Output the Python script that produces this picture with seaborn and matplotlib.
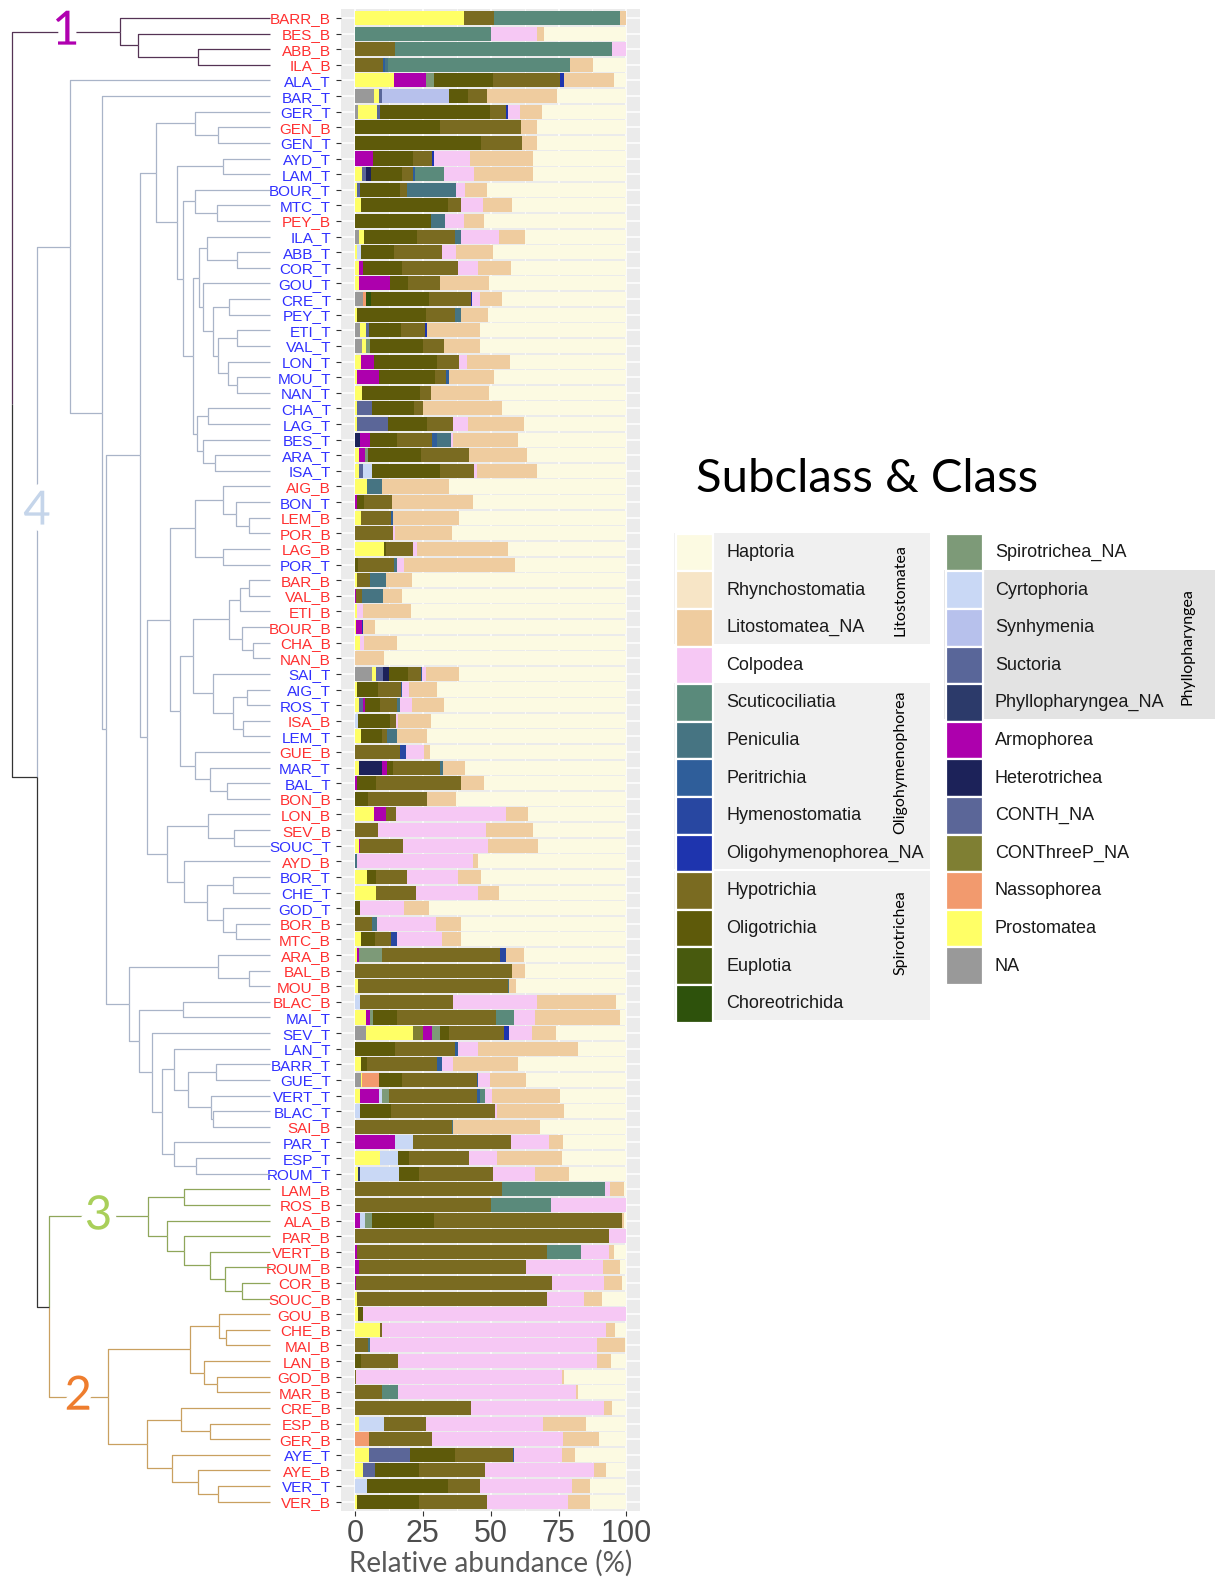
import matplotlib
matplotlib.use("Agg")
import matplotlib.pyplot as plt
import matplotlib.patheffects as pe
from matplotlib.patches import Rectangle
import pandas as pd
import seaborn as sns

# taxa in legend order (column 1 top -> column 2 bottom)
taxa = ["Haptoria", "Rhynchostomatia", "Litostomatea_NA", "Colpodea",
        "Scuticociliatia", "Peniculia", "Peritrichia", "Hymenostomatia",
        "Oligohymenophorea_NA", "Hypotrichia", "Oligotrichia", "Euplotia",
        "Choreotrichida", "Spirotrichea_NA", "Cyrtophoria", "Synhymenia",
        "Suctoria", "Phyllopharyngea_NA", "Armophorea", "Heterotrichea",
        "CONTH_NA", "CONThreeP_NA", "Nassophorea", "Prostomatea", "NA"]
codes = ["Hap", "Rhy", "Lit", "Col", "Scu", "Pen", "Per", "Hym", "OlN", "Hyp",
         "Olt", "Eup", "Cho", "SpN", "Cyr", "Syn", "Suc", "Phy", "Arm", "Het",
         "CTH", "CTP", "Nas", "Pro", "NA"]
colors = ["#FCFAE2", "#F7E5C6", "#EFCC9F", "#F6C8F4", "#5A8A7B", "#467482",
          "#2F5E9A", "#2847A1", "#1E34AE", "#7A6B21", "#5E5A0A", "#485A0E",
          "#2E520C", "#7D9A78", "#C9D8F5", "#B7C1EC", "#596699", "#2C3A6A",
          "#AD00AD", "#1C2259", "#5B6698", "#7F7F33", "#F29A6E", "#FFFF66",
          "#999999"]

# relative abundance (%) per sample; Haptoria is the rest
comp_c1 = [
    ("BARR_B", dict(Pro=40, Hyp=11.3, Scu=46.2, Lit=2.3)),
    ("BES_B", dict(Scu=50, Col=17.2, Lit=2.5)),
    ("ABB_B", dict(Hyp=14.7, Scu=80.1, Col=5.2)),
    ("ILA_B", dict(Hyp=10.2, Per=0.9, Pen=1.0, Scu=67, Lit=8.6)),
]
comp_c4a = [
    ("ALA_T", dict(Pro=14.5, Arm=11.6, SpN=3, Olt=21.9, Hyp=24.5, OlN=1.5, Lit=18.3)),
    ("BAR_T", dict(NA=7, Pro=2, Suc=1, Syn=24.7, Olt=7, Hyp=7, Lit=25.9)),
    ("GER_T", dict(NA=1.2, Pro=7, Suc=1.2, Olt=40.3, Hyp=5.9, OlN=0.8, Col=4.3, Lit=8.3)),
    ("GEN_B", dict(Olt=31.3, Hyp=30, Lit=5.6)),
    ("GEN_T", dict(Olt=46.3, Hyp=15.3, Lit=5.3)),
    ("AYD_T", dict(Arm=6.7, Olt=14.8, Hyp=7, OlN=0.6, Col=13.2, Lit=23.1)),
    ("LAM_T", dict(Pro=2.5, CTH=1.5, Het=1.9, Olt=11.6, Hyp=3.7, Per=1, Scu=10.6, Col=11.1, Lit=21.7)),
    ("BOUR_T", dict(Pro=0.7, Suc=1.1, Olt=14.8, Hyp=2.7, Pen=18.1, Col=3.1, Lit=8)),
    ("MTC_T", dict(Pro=2.2, Olt=32.2, Hyp=4.5, Col=8.3, Lit=10.7)),
    ("PEY_B", dict(Olt=27.9, Pen=5.4, Col=6.9, Lit=7.3)),
    ("ILA_T", dict(NA=1.6, Pro=1.6, Olt=19.7, Hyp=14, Pen=2, Col=14.2, Lit=9.7)),
    ("ABB_T", dict(Pro=0.7, Cyr=1.5, Olt=12.2, Hyp=17.5, Col=5.3, Lit=13.7)),
    ("COR_T", dict(Pro=1.3, Arm=1.5, Olt=14.7, Hyp=20.5, Col=7.3, Lit=12.1)),
    ("GOU_T", dict(Pro=1.3, Arm=11.6, Olt=6.7, Hyp=11.9, Lit=17.9)),
    ("CRE_T", dict(NA=3.1, Nas=1, Cho=1.8, Olt=21.5, Hyp=15.2, OlN=0.5, Col=2.9, Lit=8.2)),
    ("PEY_T", dict(Pro=0.9, Olt=25.2, Hyp=10.9, Pen=1.9, Lit=10.2)),
    ("ETI_T", dict(NA=1.8, Pro=2.2, Suc=1.3, Olt=11.6, Hyp=8.9, OlN=0.6, Lit=19.6)),
    ("VAL_T", dict(NA=2.7, Pro=1.3, SpN=1.5, Olt=19.7, Hyp=7.7, Lit=13.1)),
    ("LON_T", dict(Pro=2.1, Arm=5, Olt=23.2, Hyp=7.9, Col=3.1, Lit=15.8)),
    ("MOU_T", dict(Pro=0.6, Arm=8.4, Olt=20.4, Hyp=4, Per=1.3, Lit=16.5)),
    ("NAN_T", dict(Pro=2.5, Olt=21.4, Hyp=4.1, Lit=21.4)),
    ("CHA_T", dict(Pro=0.9, CTH=5.2, Olt=15.6, Hyp=3.2, Lit=29.1)),
    ("LAG_T", dict(Pro=0.6, CTH=11.4, Olt=14.7, Hyp=9.5, Col=5.5, Lit=20.5)),
    ("BES_T", dict(Het=1.8, Arm=3.7, Olt=9.8, Hyp=13.2, Per=1.6, Pen=5.2, Col=0.9, Lit=23.9)),
    ("ARA_T", dict(Pro=1.5, Arm=2.2, SpN=1, Olt=19.8, Hyp=17.6, Lit=21.3)),
    ("ISA_T", dict(Pro=1.6, Suc=1.2, Cyr=3.3, Olt=25.2, Hyp=12.6, Col=0.9, Lit=22.1)),
]
comp_c4b = [
    ("AIG_B", dict(Pro=4.3, Pen=5.5, Lit=24.9)),
    ("BON_T", dict(Arm=0.6, Olt=2.7, Hyp=10.3, Lit=29.9)),
    ("LEM_B", dict(Pro=2.1, Hyp=11.2, Per=0.8, Lit=24.2)),
    ("POR_B", dict(Hyp=14.1, Col=0.6, Lit=21.1)),
    ("LAG_B", dict(Pro=10.8, Olt=0.6, Hyp=9.8, Col=1.8, Lit=33.2)),
    ("POR_T", dict(Olt=1, Hyp=13.5, Pen=0.8, Col=2.9, Lit=40.8)),
    ("BAR_B", dict(Pro=0.6, Hyp=4.9, Pen=5.9, Lit=9.6)),
    ("VAL_B", dict(Arm=0.4, Hyp=2.1, Pen=7.9, Lit=7.1)),
    ("ETI_B", dict(Pro=0.6, Col=2.5, Lit=17.5)),
    ("BOUR_B", dict(Pro=0.4, Arm=2.1, OlN=0.6, Lit=4.3)),
    ("CHA_B", dict(Pro=1.8, Col=1.6, Lit=12.2)),
    ("NAN_B", dict(Lit=10.8)),
    ("SAI_T", dict(NA=6.4, Pro=1.2, CTH=2.8, Het=2.2, Olt=6.8, Hyp=4.9, Per=0.5, Col=1.2, Lit=12.4)),
    ("AIG_T", dict(Pro=0.9, Olt=7.7, Hyp=8.2, Per=0.6, Col=2.5, Lit=10.5)),
    ("ROS_T", dict(Pro=1.5, CTH=1.6, Arm=0.6, Olt=5.7, Hyp=5.9, Pen=1.3, Col=4.3, Lit=12)),
    ("ISA_B", dict(Cyr=1.2, Olt=11.7, Hyp=2.2, Col=0.6, Lit=12.3)),
    ("LEM_T", dict(Pro=2.1, Olt=7.7, Hyp=2.1, Pen=3.4, Lit=11.3)),
    ("GUE_B", dict(Hyp=16.6, Hym=2.2, Col=6.7, Lit=2.1)),
    ("MAR_T", dict(Pro=1.6, Het=8.2, Arm=1.9, Olt=2.4, Hyp=17.2, Pen=1, Lit=8.3)),
    ("BAL_T", dict(Arm=0.9, Olt=6.7, Hyp=31.5, Lit=8.4)),
    ("BON_B", dict(Olt=4.9, Hyp=21.7, Lit=10.8)),
    ("LON_B", dict(Pro=7, Arm=4.4, Hyp=3.7, Col=40.7, Lit=8)),
    ("SEV_B", dict(Hyp=8.3, Col=39.9, Lit=17.2)),
    ("SOUC_T", dict(Pro=1.5, Arm=0.4, Hyp=15.9, Col=31.3, Lit=18.4)),
    ("AYD_B", dict(Pen=0.6, Col=43, Lit=1.6)),
    ("BOR_T", dict(Pro=4.5, Olt=3.1, Hyp=11.7, Col=18.5, Lit=8.5)),
    ("CHE_T", dict(Pro=7.6, Hyp=14.7, Col=23.1, Lit=7.7)),
    ("GOD_T", dict(Olt=1.8, Col=16.4, Lit=9)),
    ("BOR_B", dict(Hyp=6.1, Pen=2.1, Col=21.5, Lit=9.3)),
    ("MTC_B", dict(Pro=2.2, Olt=5.2, Hyp=5.9, Hym=2.3, Col=16.5, Lit=6.8)),
]
comp_c4c = [
    ("ARA_B", dict(Pro=0.6, Arm=0.9, SpN=8.6, Hyp=43.3, Hym=2.4, Lit=6.4)),
    ("BAL_B", dict(Hyp=57.9, Lit=4.9)),
    ("MOU_B", dict(Pro=1, Hyp=55.2, Pen=0.6, Lit=2.5)),
    ("BLAC_B", dict(Cyr=1.8, Hyp=34.2, Col=31.2, Lit=29.1)),
    ("MAI_T", dict(Pro=4, Arm=1.5, SpN=1.2, Olt=8.6, Hyp=36.5, Scu=6.7, Col=8, Lit=31)),
    ("SEV_T", dict(NA=3.9, Pro=17.6, CTP=3.7, Arm=3, SpN=3.1, Olt=3.3, Hyp=20.4, OlN=1.8, Col=8.5, Lit=8.7)),
    ("LAN_T", dict(Olt=14.7, Hyp=22.1, Per=1, Col=7.4, Lit=37)),
    ("BARR_T", dict(Pro=2.2, Olt=2.3, Hyp=25.9, Per=1.5, Col=4.3, Lit=23.7)),
    ("GUE_T", dict(NA=2.2, Pro=0.5, Nas=6.1, Olt=8.4, Hyp=27.6, Per=0.6, Col=4.3, Lit=13.2)),
    ("VERT_T", dict(Pro=1.8, Arm=7, Cyr=1.3, SpN=2.5, Hyp=32.2, Per=1.2, Scu=1.9, Col=2.4, Lit=25.2)),
    ("BLAC_T", dict(Cyr=1.8, Olt=11.5, Hyp=38.2, Col=0.9, Lit=24.5)),
    ("SAI_B", dict(Hyp=35.8, Pen=0.4, Lit=31.9)),
    ("PAR_T", dict(Arm=14.7, Cyr=6.5, Hyp=36.2, Col=14, Lit=5.3)),
    ("ESP_T", dict(Pro=9.4, Cyr=6.3, Olt=4.3, Hyp=22, Col=10.5, Lit=23.6)),
    ("ROUM_T", dict(Pro=1.2, Phy=0.6, Cyr=14.4, Olt=7.4, Hyp=27.2, Col=15.7, Lit=12.2)),
]
comp_c3 = [
    ("LAM_B", dict(Hyp=54, Scu=38, Col=1.9, Lit=5.1)),
    ("ROS_B", dict(Hyp=50, Scu=22.1, Col=27.9)),
    ("ALA_B", dict(Arm=1.8, Cyr=1.9, SpN=2.4, Olt=23, Hyp=69.1, Lit=0.8)),
    ("PAR_B", dict(Hyp=93.6, Col=6.4)),
    ("VERT_B", dict(Arm=0.6, Hyp=70.3, Scu=12.5, Col=10.2, Lit=1.7)),
    ("ROUM_B", dict(Arm=1.4, Hyp=61.6, Col=28.5, Lit=6.1)),
    ("COR_B", dict(Arm=0.3, Hyp=72.1, Col=19.3, Lit=6.8)),
    ("SOUC_B", dict(Pro=0.6, Hyp=70, Col=13.8, Lit=6.6)),
]
comp_c2 = [
    ("GOU_B", dict(Pro=1, Olt=2.1, Col=96.7)),
    ("CHE_B", dict(Pro=9.2, Hyp=0.8, Col=82.4, Lit=3.3)),
    ("MAI_B", dict(Hyp=4.9, Pen=0.6, Col=83.8, Lit=10.1)),
    ("LAN_B", dict(Olt=2.2, Hyp=13.8, Col=73.3, Lit=5.2)),
    ("GOD_B", dict(Hyp=0.3, Col=76, Lit=0.6)),
    ("MAR_B", dict(Hyp=9.8, Scu=5.9, Col=65.6, Lit=0.7)),
    ("CRE_B", dict(Hyp=42.9, Col=48.8, Lit=3.1)),
    ("ESP_B", dict(Pro=1.6, Cyr=9.1, Hyp=15.4, Col=43.2, Lit=15.7)),
    ("GER_B", dict(Nas=5.3, Hyp=23.2, Col=48.2, Lit=13.2)),
    ("AYE_T", dict(Pro=5.3, CTH=14.9, Olt=16.6, Hyp=21.5, Per=0.4, Col=17.6, Lit=4.7)),
    ("AYE_B", dict(Pro=2.8, CTH=4.6, Olt=16.3, Hyp=24.2, Col=40.2, Lit=4.5)),
    ("VER_T", dict(Cyr=4.5, Olt=29.9, Hyp=11.6, Col=33.8, Lit=6.9)),
    ("VER_B", dict(Pro=0.6, Olt=23.1, Hyp=25, Col=29.8, Lit=8.2)),
]

# dendrogram: (node, upper child, lower child, merge height)
merges = [
    ("c1a", "ABB_B", "ILA_B", 0.28), ("c1b", "BES_B", "c1a", 0.51), ("c1", "BARR_B", "c1b", 0.583),
    ("gen", "GEN_B", "GEN_T", 0.20), ("ger", "GER_T", "gen", 0.29),
    ("ayd", "AYD_T", "LAM_T", 0.183), ("mtc", "MTC_T", "PEY_B", 0.204), ("bour", "BOUR_T", "mtc", 0.29),
    ("abbc", "ABB_T", "COR_T", 0.126), ("ila", "ILA_T", "abbc", 0.243),
    ("crep", "CRE_T", "PEY_T", 0.157), ("etiv", "ETI_T", "VAL_T", 0.126), ("moun", "MOU_T", "NAN_T", 0.126),
    ("lon", "LON_T", "moun", 0.161), ("eti", "etiv", "lon", 0.20), ("cre", "crep", "eti", 0.219),
    ("gou", "GOU_T", "cre", 0.258), ("ilag", "ila", "gou", 0.274),
    ("chal", "CHA_T", "LAG_T", 0.239), ("arai", "ARA_T", "ISA_T", 0.213), ("bes", "BES_T", "arai", 0.258),
    ("cha", "chal", "bes", 0.284), ("G", "ilag", "cha", 0.299), ("F", "bour", "G", 0.338),
    ("E", "ayd", "F", 0.361), ("D", "ger", "E", 0.441),
    ("lemp", "LEM_B", "POR_B", 0.08), ("bon", "BON_T", "lemp", 0.132), ("aig", "AIG_B", "bon", 0.183),
    ("lagp", "LAG_B", "POR_T", 0.183), ("g30", "aig", "lagp", 0.29),
    ("barv", "BAR_B", "VAL_B", 0.08), ("etib", "ETI_B", "barv", 0.116), ("chan", "CHA_B", "NAN_B", 0.065),
    ("bourb", "BOUR_B", "chan", 0.11), ("g36", "etib", "bourb", 0.157),
    ("aigr", "AIG_T", "ROS_T", 0.088), ("isal", "ISA_B", "LEM_T", 0.106), ("aigi", "aigr", "isal", 0.142),
    ("sai", "SAI_T", "aigi", 0.219), ("g36b", "g36", "sai", 0.297),
    ("balb", "BAL_T", "BON_B", 0.168), ("mar", "MAR_T", "balb", 0.232), ("gue", "GUE_B", "mar", 0.29),
    ("I", "g36b", "gue", 0.348), ("H", "g30", "I", 0.387),
    ("sevs", "SEV_B", "SOUC_T", 0.138), ("lonb", "LON_B", "sevs", 0.239),
    ("borc", "BOR_T", "CHE_T", 0.145), ("bormt", "BOR_B", "MTC_B", 0.132), ("god", "GOD_T", "bormt", 0.181),
    ("bor", "borc", "god", 0.243), ("aydb", "AYD_B", "bor", 0.335), ("lonayd", "lonb", "aydb", 0.40),
    ("J", "H", "lonayd", 0.477), ("C1", "D", "J", 0.503),
    ("balm", "BAL_B", "MOU_B", 0.08), ("ara", "ARA_B", "balm", 0.20), ("blac", "BLAC_B", "MAI_T", 0.338),
    ("barg", "BARR_T", "GUE_T", 0.209), ("blsa", "BLAC_T", "SAI_B", 0.222), ("vert", "VERT_T", "blsa", 0.23),
    ("bv", "barg", "vert", 0.316), ("lan", "LAN_T", "bv", 0.372),
    ("espr", "ESP_T", "ROUM_T", 0.286), ("par", "PAR_T", "espr", 0.374),
    ("M", "lan", "par", 0.419), ("L", "SEV_T", "M", 0.458), ("K", "blac", "L", 0.506),
    ("C2", "ara", "K", 0.545), ("C", "C1", "C2", 0.635), ("B", "BAR_T", "C", 0.652), ("c4", "ALA_T", "B", 0.774),
    ("lamr", "LAM_B", "ROS_B", 0.332), ("cors", "COR_B", "SOUC_B", 0.107), ("roum", "ROUM_B", "cors", 0.174),
    ("vertb", "VERT_B", "roum", 0.232), ("parb", "PAR_B", "vertb", 0.332), ("alab", "ALA_B", "parb", 0.40),
    ("c3", "lamr", "alab", 0.471),
    ("chem", "CHE_B", "MAI_B", 0.17), ("goub", "GOU_B", "chem", 0.196), ("godm", "GOD_B", "MAR_B", 0.204),
    ("lanb", "LAN_B", "godm", 0.255), ("g83", "goub", "lanb", 0.312),
    ("espg", "ESP_B", "GER_B", 0.232), ("creb", "CRE_B", "espg", 0.345),
    ("ver", "VER_T", "VER_B", 0.20), ("ayeb", "AYE_B", "ver", 0.28), ("ayet", "AYE_T", "ayeb", 0.381),
    ("g89", "creb", "ayet", 0.475), ("c2", "g83", "g89", 0.628),
    ("P", "c3", "c2", 0.858), ("N", "c4", "P", 0.903), ("root", "c1", "N", 1.0),
]
# cluster root node, tag, line colour, tag colour, tag placement
clusters = [("c1", "1", "#553355", "#B000B0", "h"),
            ("c4", "4", "#A9B4C8", "#C5D5EA", "v"),
            ("c3", "3", "#8FA65A", "#A9CF5A", "h"),
            ("c2", "2", "#C9A060", "#EE7D2E", "h")]

# class boxes in the legend: name, column, first row, last row
class_boxes = [("Litostomatea", 0, 0, 2), ("Oligohymenophorea", 0, 4, 8),
               ("Spirotrichea", 0, 9, 12), ("Phyllopharyngea", 1, 1, 4)]

sns.set_theme(style="white")
plt.rcParams["font.family"] = ["Liberation Sans", "DejaVu Sans"]
calib = ["Lato", "DejaVu Sans"]

rows = comp_c1 + comp_c4a + comp_c4b + comp_c4c + comp_c3 + comp_c2
samples = [r[0] for r in rows]
n = len(samples)
tab = pd.DataFrame([r[1] for r in rows], index=samples).reindex(columns=codes).fillna(0.0)
tab["Hap"] = (100 - tab.drop(columns="Hap").sum(axis=1)).clip(lower=0)
col_of = dict(zip(codes, colors))

stack = codes[::-1]          # ggplot puts the last factor level at the left
cum = tab[stack].cumsum(axis=1)

W, H = 1221, 1581
fig = plt.figure(figsize=(W / 100, H / 100), dpi=100)


def px_axes(x0, y0, x1, y1, **kw):
    return fig.add_axes([x0 / W, 1 - y1 / H, (x1 - x0) / W, (y1 - y0) / H], **kw)


lax = px_axes(0, 0, W, H)
lax.set_xlim(0, W)
lax.set_ylim(H, 0)
lax.axis("off")

# ---- stacked bars
ax = px_axes(341.4, 8.6, 640.0, 1511.0)
ax.set_facecolor("#EBEBEB")
for code in stack[::-1]:
    sns.barplot(x=cum[code].values, y=samples, order=samples, orient="h",
                color=col_of[code], saturation=1, width=0.9, linewidth=0,
                errorbar=None, ax=ax, zorder=2)
ax.set_xlim(-5, 105)
ax.set_ylim(n - 0.4, -0.6)
ax.set_xticks([0, 25, 50, 75, 100])
ax.set_xticks([12.5, 37.5, 62.5, 87.5], minor=True)
ax.set_axisbelow(True)
ax.grid(which="major", color="white", lw=1.1)
ax.grid(which="minor", axis="x", color="white", lw=0.55)
for s in ax.spines.values():
    s.set_visible(False)
ax.tick_params(axis="x", which="major", length=3.5, width=0.8, color="#333333",
               labelsize=22, labelcolor="#4D4D4D", pad=2, bottom=True)
ax.tick_params(axis="x", which="minor", length=0)
ax.tick_params(axis="y", length=3.5, width=0.8, color="#333333", labelsize=11,
               pad=4, left=True)
for t in ax.get_yticklabels():
    t.set_color("#FF3030" if t.get_text().endswith("_B") else "#3030FF")
ax.set_ylabel("")
ax.set_xlabel("Relative abundance (%)", fontsize=20, color="#595959",
              family=calib, labelpad=1)

# ---- dendrogram
dax = px_axes(12, 8.6, 270, 1511.0)
dax.set_xlim(1.0, 0.0)
dax.set_ylim(n - 0.4, -0.6)
dax.axis("off")

pos = {s: (0.0, float(i)) for i, s in enumerate(samples)}
kids = {}
parent = {}
for node, a, b, h in merges:
    pos[node] = (h, (pos[a][1] + pos[b][1]) / 2)
    kids[node] = (a, b)
    parent[a] = parent[b] = node

member = {}


def tag(node, k):
    member[node] = k
    for c in kids.get(node, ()):
        tag(c, k)


for k, (node, _, lc, _, _) in enumerate(clusters):
    tag(node, k)

for node, a, b, h in merges:
    for c in (a, b):
        cx, cy = pos[c]
        lc = clusters[member[c]][2] if c in member else "#333333"
        dax.plot([cx, h, h], [cy, cy, pos[node][1]], color=lc, lw=0.9,
                 solid_capstyle="butt", clip_on=False)

for node, label, lc, tc, where in clusters:
    h, y = pos[node]
    ph, py = pos[parent[node]]
    if where == "h":
        tx, ty = (h + ph) / 2, y
    else:
        tx, ty = ph, (y + py) / 2
    dax.text(tx, ty, label, color=tc, fontsize=34, family=calib, ha="center",
             va="center", clip_on=False,
             path_effects=[pe.withStroke(linewidth=10, foreground="white")])

# ---- legend
key_y0, key_dy = 552.5, 37.6
col_x = [(676, 726, 674, 930, "#F0F0F0", 900), (946, 995, 944, 1215, "#E3E3E3", 1187)]
label_shift = {"Oligohymenophorea": -16, "Spirotrichea": -15}
for name, c, i0, i1 in class_boxes:
    sx, tx, bx0, bx1, fc, lx = col_x[c]
    y_top = key_y0 + i0 * key_dy - 20
    y_bot = key_y0 + i1 * key_dy + 16
    lax.add_patch(Rectangle((bx0, y_top), bx1 - bx0, y_bot - y_top, fc=fc, ec="none", zorder=0))
    yc = key_y0 + (i0 + i1) / 2 * key_dy + label_shift.get(name, 0)
    lax.text(lx, yc, name, rotation=90, ha="center", va="center", fontsize=11.5,
             family=calib, color="black", zorder=3)

for i, (name, colr) in enumerate(zip(taxa, colors)):
    c, r = (0, i) if i < 13 else (1, i - 13)
    sx, tx = col_x[c][0], col_x[c][1]
    y = key_y0 + r * key_dy
    lax.add_patch(Rectangle((sx, y - key_dy / 2), 37, key_dy, fc=colr, ec="white",
                            lw=1.6, zorder=2))
    lax.text(tx, y, name, ha="left", va="center", fontsize=13, color="#1A1A1A", zorder=3)

lax.text(696, 479, "Subclass & Class", fontsize=34, family=calib, ha="left",
         va="center", color="black")

fig.savefig("out.png", dpi=100)
